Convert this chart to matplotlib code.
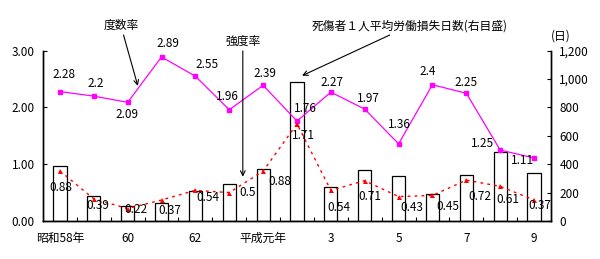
import numpy as np
import matplotlib
matplotlib.use("Agg")
import matplotlib.pyplot as plt

plt.rcParams['font.family'] = ['Noto Sans CJK JP', 'DejaVu Sans']

# data (昭和58年 .. 平成9年)
years = ['昭和58年', '59', '60', '61', '62', '63', '平成元年', '2', '3', '4', '5', '6', '7', '8', '9']
shown_labels = {0: '昭和58年', 2: '60', 4: '62', 6: '平成元年', 8: '3', 10: '5', 12: '7', 14: '9'}
freq_rate = [2.28, 2.2, 2.09, 2.89, 2.55, 1.96, 2.39, 1.76, 2.27, 1.97, 1.36, 2.4, 2.25, 1.25, 1.11]
sev_rate = [0.88, 0.39, 0.22, 0.37, 0.54, 0.5, 0.88, 1.71, 0.54, 0.71, 0.43, 0.45, 0.72, 0.61, 0.37]
lost_days = [387, 176, 106, 125, 211, 260, 366, 979, 237, 357, 315, 188, 322, 486, 336]

# label offsets (pixels) for the value labels
freq_off = [(4, 17), (2, 13), (-1, -12), (6, 13), (12, 12), (-2, 13), (2, 12), (8, 13),
            (1, 10), (4, 11), (1, 19), (-5, 13), (0, 11), (-18, 7), (-12, -3)]
sev_off = [(1, -16), (4, -7), (8, -1), (8, -11), (12, -7), (18, 0), (17, -10), (6, -12),
           (8, -17), (5, -16), (13, -11), (15, -11), (14, -16), (8, -13), (6, -6)]

fig = plt.figure(figsize=(6.0, 2.59), dpi=100)
ax = fig.add_axes([43 / 600, 1 - 221 / 259, 508 / 600, (221 - 50.7) / 259])
ax2 = ax.twinx()
ax.set_zorder(ax2.get_zorder() + 1)
ax.patch.set_visible(False)

x = np.arange(len(years)) + 0.5

# bars on the right axis
ax2.bar(x, lost_days, width=0.39, color='white', edgecolor='black', linewidth=0.9)
ax2.set_ylim(0, 1200)
ax2.set_yticks([0, 200, 400, 600, 800, 1000, 1200])
ax2.set_yticklabels(['0', '200', '400', '600', '800', '1,000', '1,200'], fontsize=8.5)

# lines on the left axis
ax.plot(x, freq_rate, color='#FF00FF', lw=0.9, marker='s', ms=3.2, clip_on=False)
ax.plot(x, sev_rate, color='#FF0000', lw=1.0, ls=(0, (2, 3)), marker='^', ms=3.6,
        markeredgewidth=0, clip_on=False)
ax.set_ylim(0, 3)
ax.set_xlim(0, len(years))
ax.set_yticks([0, 1, 2, 3])
ax.set_yticklabels(['0.00', '1.00', '2.00', '3.00'], fontsize=8.5)

for xi, v, (dx, dy) in zip(x, freq_rate, freq_off):
    ax.annotate(f'{v:g}', (xi, v), xytext=(dx, dy), textcoords='offset pixels',
                ha='center', va='center', fontsize=8.5)
for xi, v, (dx, dy) in zip(x, sev_rate, sev_off):
    ax.annotate(f'{v:g}', (xi, v), xytext=(dx, dy), textcoords='offset pixels',
                ha='center', va='center', fontsize=8.5)

# x axis: labels at every other year, small ticks between categories
ax.set_xticks([x[i] for i in shown_labels])
ax.set_xticklabels(list(shown_labels.values()), fontsize=8.5)
ax.tick_params(axis='x', length=0, pad=8)
ax.set_xticks(np.arange(1, len(years)), minor=True)
ax.tick_params(axis='x', which='minor', direction='in', length=3, width=0.8)
ax.tick_params(axis='y', direction='in', length=3, width=0.8, pad=6)
ax2.tick_params(axis='y', direction='in', length=3, width=0.8, pad=6)
ax2.tick_params(axis='x', which='both', length=0)

for a in (ax, ax2):
    a.spines['top'].set_visible(False)
    for s in ('left', 'right', 'bottom'):
        a.spines[s].set_linewidth(1.0)

# callouts
arrow = dict(arrowstyle='->', color='black', lw=0.8, shrinkA=0, shrinkB=0)
ax.annotate('度数率', xy=(2.8, 2.38), xytext=(2.3, 3.44), ha='center', va='center',
            fontsize=8.5, arrowprops=arrow, annotation_clip=False)
ax.annotate('強度率', xy=(5.9, 0.78), xytext=(5.9, 3.16), ha='center', va='center',
            fontsize=8.5, arrowprops=arrow, annotation_clip=False)
ax.annotate('死傷者１人平均労働損失日数(右目盛)', xy=(7.65, 2.56), xytext=(10.83, 3.44),
            ha='center', va='center', fontsize=8.5, arrowprops=arrow, annotation_clip=False)
ax.text(15.28, 3.25, '(日)', ha='center', va='center', fontsize=8.5)

fig.savefig('out.png', dpi=100)
